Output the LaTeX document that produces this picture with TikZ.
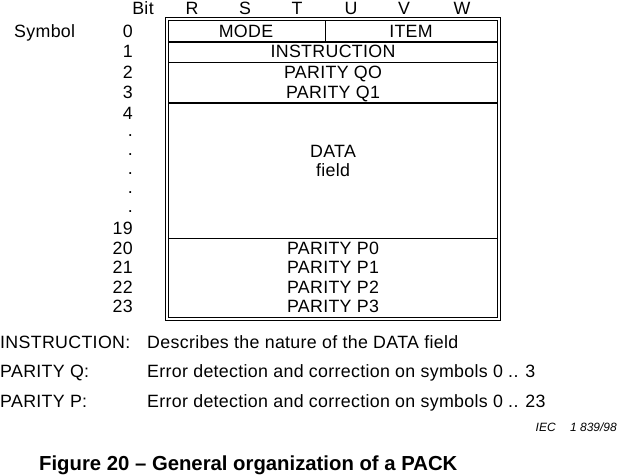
\documentclass[tikz,border=0pt]{standalone}
\usepackage{fontspec}
\setmainfont{Liberation Sans}
\newfontfamily\spacedsans[LetterSpace=1.8]{Liberation Sans}
\begin{document}
\begin{tikzpicture}[x=1pt,y=-1pt,
  txt/.style={inner sep=0pt,font=\spacedsans\fontsize{17.8}{20}\selectfont,text height=12.8pt,text depth=0pt},
  num/.style={txt,anchor=east},
  sep/.style={line width=1.5pt},
  frame/.style={line width=1pt}]
\useasboundingbox (0,0) rectangle (618,474);
% frame
\draw[frame] (165.5,17.5) rectangle (500,320.5);
\draw[frame] (168.7,20.5) rectangle (497,317);
\draw[sep] (168.7,42) -- (497,42);
\draw[sep] (168.7,62.7) -- (497,62.7);
\draw[sep] (168.7,103) -- (497,103);
\draw[sep] (168.7,238.7) -- (497,238.7);
\draw[sep] (325.7,20.5) -- (325.7,42);
% header
\node[txt] (bit) at (143,8) {Bit};
\node[txt] (bR) at (192,8) {R};
\node[txt] (bS) at (245,8) {S};
\node[txt] (bT) at (297,8) {T};
\node[txt] (bU) at (351,8) {U};
\node[txt] (bV) at (404,8) {V};
\node[txt] (bW) at (462,8) {W};
\node[txt,anchor=west] (sym) at (14,31) {Symbol};
% numbers
\node[num] (n0) at (133,31) {0};
\node[num] (n1) at (133,51) {1};
\node[num] (n2) at (133,72) {2};
\node[num] (n3) at (133,92) {3};
\node[num] (n4) at (133,113) {4};
\node[num] (d1) at (133,130) {.};
\node[num] (d2) at (133,149) {.};
\node[num] (d3) at (133,168) {.};
\node[num] (d4) at (133,187) {.};
\node[num] (d5) at (133,206) {.};
\node[num] (n19) at (133,228) {19};
\node[num] (n20) at (133,248) {20};
\node[num] (n21) at (133,267) {21};
\node[num] (n22) at (133,287) {22};
\node[num] (n23) at (133,306) {23};
% contents
\node[txt] (mode) at (246,31) {MODE};
\node[txt] (item) at (411,31) {ITEM};
\node[txt] (instr) at (333,51) {INSTRUCTION};
\node[txt] (q0) at (333,72) {PARITY QO};
\node[txt] (q1) at (333,92) {PARITY Q1};
\node[txt] (data) at (333,151) {DATA};
\node[txt] (field) at (333,170) {field};
\node[txt] (p0) at (333,248) {PARITY P0};
\node[txt] (p1) at (333,267) {PARITY P1};
\node[txt] (p2) at (333,287) {PARITY P2};
\node[txt] (p3) at (333,306) {PARITY P3};
% legend
\node[txt,anchor=west] (l1) at (0,342) {INSTRUCTION:};
\node[txt,anchor=west] (l2) at (0,371) {PARITY Q:};
\node[txt,anchor=west] (l3) at (0,401) {PARITY P:};
\node[txt,anchor=west] (t1) at (147,342) {Describes the nature of the DATA field};
\node[txt,anchor=west] (t2) at (147,371) {Error detection and correction on symbols 0 .. 3};
\node[txt,anchor=west] (t3) at (147,401) {Error detection and correction on symbols 0 .. 23};
\node[inner sep=0pt,anchor=east,font=\fontsize{12}{14}\selectfont\itshape] (iec) at (617,427) {IEC\hspace{1.2em}1 839/98};
\node[inner sep=0pt,anchor=west,font=\fontsize{20.3}{24}\selectfont\bfseries,text height=14.5pt,text depth=0pt] (cap) at (39,463) {Figure 20 – General organization of a PACK};
\end{tikzpicture}
\end{document}
